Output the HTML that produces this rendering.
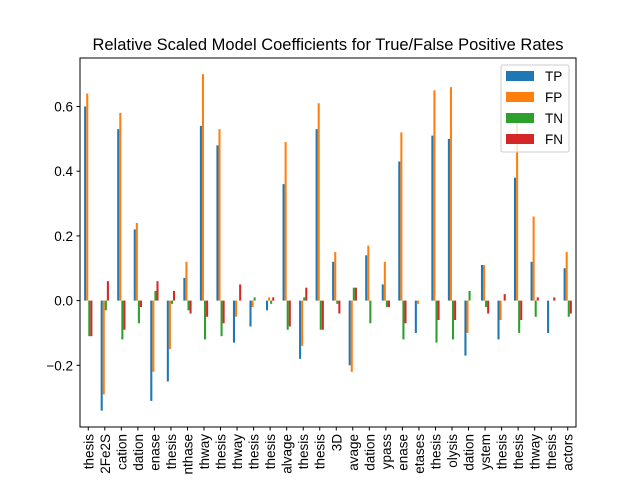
<!DOCTYPE html>
<html><head><meta charset="utf-8"><style>
body{margin:0;background:#fff;}
svg{display:block;font-family:"Liberation Sans","DejaVu Sans",sans-serif;}
</style></head><body>
<svg id="chart" width="640" height="480" viewBox="0 0 640 480">
<rect width="640" height="480" fill="#fff"/>
<text x="328" y="50" text-anchor="middle" font-size="16.5">Relative Scaled Model Coefficients for True/False Positive Rates</text>
<g id="bars"></g>
<g id="yaxis"></g>
<g id="xaxis"></g>
<rect x="80" y="58" width="496" height="369" fill="none" stroke="#000" stroke-width="1"/>
<g id="legend"></g>
</svg>
<script>
const categories=["thesis","2Fe2S","cation","dation","enase","thesis","nthase","thway","thesis","thway","thesis","thesis","alvage","thesis","thesis","3D","avage","dation","ypass","enase","etases","thesis","olysis","dation","ystem","thesis","thesis","thway","thesis","actors"];
const seriesNames=["TP","FP","TN","FN"];
const tpValues=[0.60,-0.34,0.53,0.22,-0.31,-0.25,0.07,0.54,0.48,-0.13,-0.08,-0.03,0.36,-0.18,0.53,0.12,-0.20,0.14,0.05,0.43,-0.10,0.51,0.50,-0.17,0.11,-0.12,0.38,0.12,-0.10,0.10];
const fpValues=[0.64,-0.29,0.58,0.24,-0.22,-0.15,0.12,0.70,0.53,-0.05,-0.02,0.01,0.49,-0.14,0.61,0.15,-0.22,0.17,0.12,0.52,-0.01,0.65,0.66,-0.10,0.11,-0.06,0.55,0.26,0.00,0.15];
const tnValues=[-0.11,-0.03,-0.12,-0.07,0.03,-0.01,-0.03,-0.12,-0.11,0.00,0.01,-0.01,-0.09,0.01,-0.09,-0.01,0.04,-0.07,-0.02,-0.12,0.00,-0.13,-0.12,0.03,-0.02,0.00,-0.10,-0.05,0.00,-0.05];
const fnValues=[-0.11,0.06,-0.09,-0.02,0.06,0.03,-0.04,-0.05,-0.07,0.05,0.00,0.01,-0.08,0.04,-0.09,-0.04,0.04,0.00,-0.02,-0.07,0.00,-0.06,-0.06,0.00,-0.04,0.02,-0.06,0.01,0.01,-0.04];
const yTicks=[-0.2,0.0,0.2,0.4,0.6];
const yTickLabels=["\u22120.2","0.0","0.2","0.4","0.6"];
const colors=["#1f77b4","#ff7f0e","#2ca02c","#d62728"];
const NS="http://www.w3.org/2000/svg";
const L=80,R=576,T=58,B=427;
const y=v=>300.6-v*323.5;
const gw=(R-L)/categories.length;
const x=i=>L+gw*(i+0.5);
const bw=gw*0.125;
const all=[tpValues,fpValues,tnValues,fnValues];
const gb=document.getElementById('bars');
all.forEach((vals,s)=>{vals.forEach((v,i)=>{
 const r=document.createElementNS(NS,'rect');
 const cx=x(i)+(s-1.5)*bw;
 r.setAttribute('x',cx-bw/2);r.setAttribute('width',bw);
 r.setAttribute('y',Math.min(y(v),y(0)));r.setAttribute('height',Math.abs(y(v)-y(0)));
 r.setAttribute('fill',colors[s]);
 
 
 gb.appendChild(r);});});
const gy=document.getElementById('yaxis');
yTicks.forEach((t,k)=>{
 const l=document.createElementNS(NS,'line');
 l.setAttribute('x1',L-3.5);l.setAttribute('x2',L);l.setAttribute('y1',y(t));l.setAttribute('y2',y(t));l.setAttribute('stroke','#000');
 
 
 gy.appendChild(l);
 const tx=document.createElementNS(NS,'text');
 tx.setAttribute('x',L-7);tx.setAttribute('y',y(t)+5);tx.setAttribute('text-anchor','end');tx.setAttribute('font-size','13.5');
 tx.textContent=yTickLabels[k];
 
 
 gy.appendChild(tx);});
const gx=document.getElementById('xaxis');
categories.forEach((c,i)=>{
 const l=document.createElementNS(NS,'line');
 l.setAttribute('x1',x(i));l.setAttribute('x2',x(i));l.setAttribute('y1',B);l.setAttribute('y2',B+3.5);l.setAttribute('stroke','#000');
 
 
 gx.appendChild(l);
 const tx=document.createElementNS(NS,'text');
 tx.setAttribute('transform','translate('+(x(i)+5)+','+(B+7)+') rotate(-90)');
 tx.setAttribute('text-anchor','end');tx.setAttribute('font-size','13.5');
 tx.textContent=c;
 
 
 gx.appendChild(tx);});
const lg=document.getElementById('legend');
const box=document.createElementNS(NS,'rect');
box.setAttribute('x',501);box.setAttribute('y',65);box.setAttribute('width',68);box.setAttribute('height',87);box.setAttribute('rx',2);
box.setAttribute('fill','#fff');box.setAttribute('fill-opacity','0.8');box.setAttribute('stroke','#ccc');


lg.appendChild(box);
seriesNames.forEach((n,s)=>{
 const yy=76+s*21;
 const r=document.createElementNS(NS,'rect');
 r.setAttribute('x',506);r.setAttribute('y',yy-5);r.setAttribute('width',28);r.setAttribute('height',10);r.setAttribute('fill',colors[s]);
 
 
 lg.appendChild(r);
 const t=document.createElementNS(NS,'text');
 t.setAttribute('x',545);t.setAttribute('y',yy+5);t.setAttribute('font-size','13.5');t.textContent=n;
 
 
 lg.appendChild(t);});
</script>
</body></html>
